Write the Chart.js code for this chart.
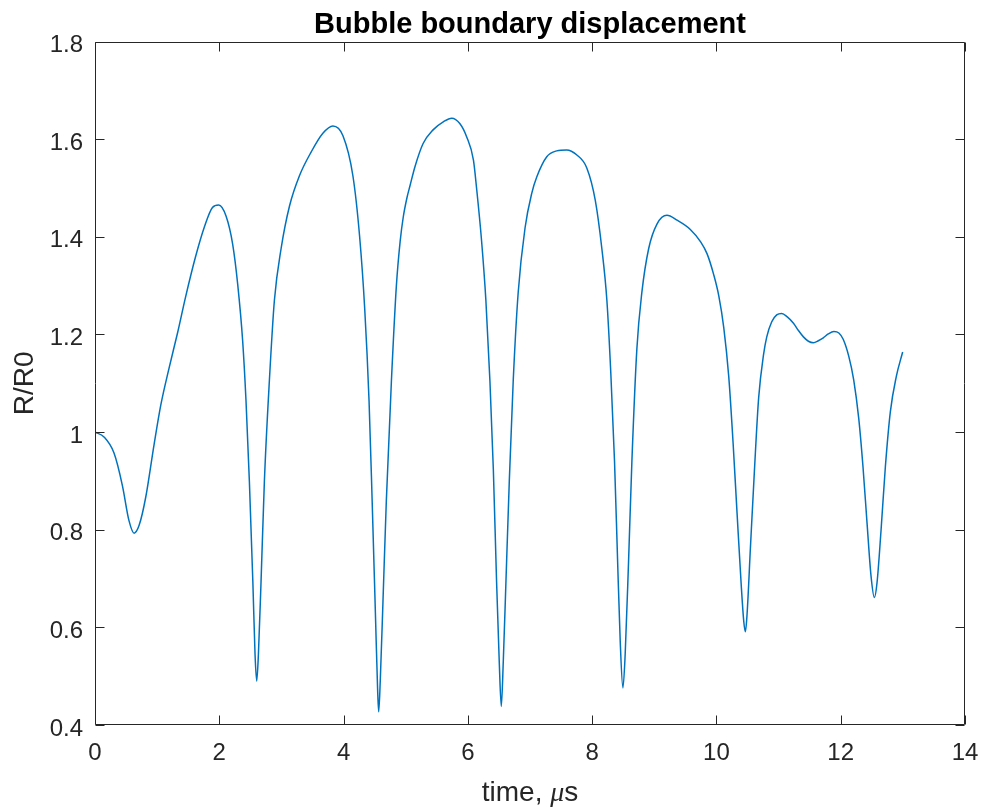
<!DOCTYPE html>
<html>
<head>
<meta charset="utf-8">
<title>Bubble boundary displacement</title>
<script src="https://cdn.jsdelivr.net/npm/chart.js@4.4.0/dist/chart.umd.min.js"></script>
<style>
    html, body { margin: 0; padding: 0; background: #ffffff; }
    #wrap { width: 982px; height: 807px; }
</style>
</head>
<body>
<div id="wrap"><canvas id="bubbleChart" width="982" height="807"></canvas></div>
<script>
// Data
var timeUs = [
    0, 0.145, 0.306, 0.44, 0.548, 0.629, 0.71, 0.817, 0.95, 1.06,
    1.19, 1.33, 1.46, 1.62, 1.76, 1.89, 1.99, 2.11, 2.215, 2.296,
    2.376, 2.43, 2.484, 2.54, 2.575, 2.602, 2.63, 2.672, 2.726, 2.806,
    2.887, 2.995, 3.13, 3.29, 3.48, 3.667, 3.828, 3.99, 4.15, 4.258,
    4.34, 4.41, 4.46, 4.516, 4.548, 4.565, 4.59, 4.634, 4.688, 4.77,
    4.85, 4.91, 4.96, 5.02, 5.07, 5.15, 5.28, 5.44, 5.61, 5.74,
    5.87, 5.98, 6.09, 6.14, 6.22, 6.29, 6.355, 6.41, 6.462, 6.505,
    6.538, 6.57, 6.613, 6.667, 6.73, 6.81, 6.92, 7.03, 7.11, 7.27,
    7.43, 7.59, 7.75, 7.914, 8.05, 8.156, 8.237, 8.30, 8.36, 8.41,
    8.452, 8.495, 8.532, 8.586, 8.64, 8.72, 8.80, 8.91, 9.043, 9.204,
    9.366, 9.58, 9.743, 9.85, 9.957, 10.038, 10.118, 10.198, 10.268, 10.332,
    10.397, 10.44, 10.466, 10.493, 10.547, 10.611, 10.68, 10.76, 10.81, 10.89,
    10.97, 11.05, 11.14, 11.24, 11.32, 11.40, 11.48, 11.56, 11.64, 11.72,
    11.80, 11.89, 11.97, 12.04, 12.13, 12.209, 12.29, 12.359, 12.424, 12.488,
    12.542, 12.584, 12.649, 12.718, 12.799, 12.895, 12.997
];
var radiusRatio = [
    1.000, 0.990, 0.957, 0.891, 0.818, 0.793, 0.809, 0.867, 0.974, 1.056,
    1.130, 1.204, 1.278, 1.360, 1.420, 1.460, 1.465, 1.442, 1.385, 1.303,
    1.187, 1.064, 0.900, 0.694, 0.546, 0.490, 0.546, 0.694, 0.900, 1.105,
    1.270, 1.376, 1.463, 1.525, 1.574, 1.612, 1.627, 1.607, 1.525, 1.401,
    1.253, 1.064, 0.859, 0.612, 0.472, 0.427, 0.489, 0.653, 0.859, 1.105,
    1.300, 1.390, 1.440, 1.480, 1.505, 1.544, 1.591, 1.619, 1.636, 1.643,
    1.632, 1.605, 1.557, 1.500, 1.393, 1.270, 1.105, 0.924, 0.694, 0.530,
    0.438, 0.530, 0.694, 0.900, 1.105, 1.286, 1.418, 1.490, 1.523, 1.564,
    1.576, 1.578, 1.568, 1.541, 1.475, 1.376, 1.270, 1.122, 0.941, 0.735,
    0.571, 0.476, 0.546, 0.735, 0.941, 1.171, 1.286, 1.376, 1.426, 1.444,
    1.434, 1.415, 1.390, 1.365, 1.322, 1.279, 1.214, 1.114, 0.978, 0.834,
    0.691, 0.612, 0.591, 0.627, 0.763, 0.920, 1.071, 1.160, 1.195, 1.226,
    1.240, 1.243, 1.236, 1.223, 1.208, 1.195, 1.186, 1.183, 1.187, 1.193,
    1.201, 1.206, 1.203, 1.190, 1.155, 1.107, 1.028, 0.928, 0.813, 0.705,
    0.661, 0.691, 0.799, 0.928, 1.042, 1.114, 1.164
];
var xTicks = [0, 2, 4, 6, 8, 10, 12, 14];
var yTicks = [0.4, 0.6, 0.8, 1, 1.2, 1.4, 1.6, 1.8];

var chartTitle = 'Bubble boundary displacement';
var yTitle = 'R/R0';

var FONT = '"Liberation Sans", Arial, Helvetica, sans-serif';
var AXIS_COLOR = '#262626';

// Box, inward ticks on all four sides and the titles (MATLAB look)
var matlabAxesPlugin = {
    id: 'matlabAxes',
    afterDraw: function(chart) {
        var ctx = chart.ctx;
        var area = chart.chartArea;
        var xs = chart.scales.x;
        var ys = chart.scales.y;
        var tick = 9;
        var l = Math.round(area.left) + 0.5, r = Math.round(area.right) - 0.5;
        var t = Math.round(area.top) + 0.5, b = Math.round(area.bottom) - 0.5;

        ctx.save();
        ctx.strokeStyle = AXIS_COLOR;
        ctx.lineWidth = 1;
        ctx.beginPath();
        ctx.rect(l, t, r - l, b - t);
        xs.ticks.forEach(function(tk) {
            var px = Math.round(xs.getPixelForValue(tk.value)) + 0.5;
            ctx.moveTo(px, b); ctx.lineTo(px, b - tick);
            ctx.moveTo(px, t); ctx.lineTo(px, t + tick);
        });
        ys.ticks.forEach(function(tk) {
            var py = Math.round(ys.getPixelForValue(tk.value)) + 0.5;
            ctx.moveTo(l, py); ctx.lineTo(l + tick, py);
            ctx.moveTo(r, py); ctx.lineTo(r - tick, py);
        });
        ctx.stroke();

        var midX = (area.left + area.right) / 2;
        var midY = (area.top + area.bottom) / 2;

        // Title
        ctx.fillStyle = '#000000';
        ctx.font = 'bold 29px ' + FONT;
        ctx.textAlign = 'center';
        ctx.textBaseline = 'alphabetic';
        ctx.fillText(chartTitle, midX, 33);

        // X axis title: "time, " + italic mu + "s"
        ctx.fillStyle = AXIS_COLOR;
        var partA = 'time, ', partB = '\u03bc', partC = 's';
        var fontN = '28px ' + FONT;
        var fontI = 'italic 28px "Liberation Serif", "Times New Roman", serif';
        ctx.font = fontN;
        var wA = ctx.measureText(partA).width, wC = ctx.measureText(partC).width;
        ctx.font = fontI;
        var wB = ctx.measureText(partB).width;
        var x0 = midX - (wA + wB + wC) / 2;
        ctx.textAlign = 'left';
        ctx.font = fontN;
        ctx.fillText(partA, x0, 801);
        ctx.font = fontI;
        ctx.fillText(partB, x0 + wA, 801);
        ctx.font = fontN;
        ctx.fillText(partC, x0 + wA + wB, 801);

        // Y axis title
        ctx.translate(33, midY);
        ctx.rotate(-Math.PI / 2);
        ctx.textAlign = 'center';
        ctx.fillText(yTitle, 0, 0);
        ctx.restore();
    }
};

function formatTick(value) {
    return String(Math.round(value * 10) / 10);
}

var ctx = document.getElementById('bubbleChart');
var bubbleChart = new Chart(ctx, {
    type: 'line',
    data: {
        datasets: [{
            label: 'R/R0',
            data: timeUs.map(function(t, i) { return { x: t, y: radiusRatio[i] }; }),
            borderColor: '#0072BD',
            borderWidth: 1.5,
            pointRadius: 0,
            fill: false,
            cubicInterpolationMode: 'monotone'
        }]
    },
    options: {
        responsive: false,
        animation: false,
        devicePixelRatio: 1,
        layout: {
            padding: { top: 41.5, right: 17, bottom: 0, left: 0 }
        },
        plugins: {
            legend: { display: false },
            title: { display: false },
            tooltip: { enabled: false }
        },
        scales: {
            x: {
                type: 'linear',
                min: 0,
                max: 14,
                afterBuildTicks: function(scale) {
                    scale.ticks = xTicks.map(function(v) { return { value: v }; });
                },
                afterFit: function(scale) {
                    // fixed height, and no extra room for the end labels
                    scale.height = 82;
                    scale.paddingLeft = 0;
                    scale.paddingRight = 0;
                },
                grid: { display: false, drawTicks: false },
                border: { display: false },
                ticks: {
                    padding: 14,
                    maxRotation: 0,
                    color: AXIS_COLOR,
                    font: { family: FONT, size: 24 },
                    callback: formatTick
                }
            },
            y: {
                type: 'linear',
                min: 0.4,
                max: 1.8,
                afterBuildTicks: function(scale) {
                    scale.ticks = yTicks.map(function(v) { return { value: v }; });
                },
                afterFit: function(scale) {
                    scale.width = 95;
                    scale.paddingTop = 0;
                    scale.paddingBottom = 0;
                },
                grid: { display: false, drawTicks: false },
                border: { display: false },
                ticks: {
                    padding: 12,
                    labelOffset: 4,
                    color: AXIS_COLOR,
                    font: { family: FONT, size: 24 },
                    callback: formatTick
                }
            }
        }
    },
    plugins: [matlabAxesPlugin]
});
</script>
</body>
</html>
